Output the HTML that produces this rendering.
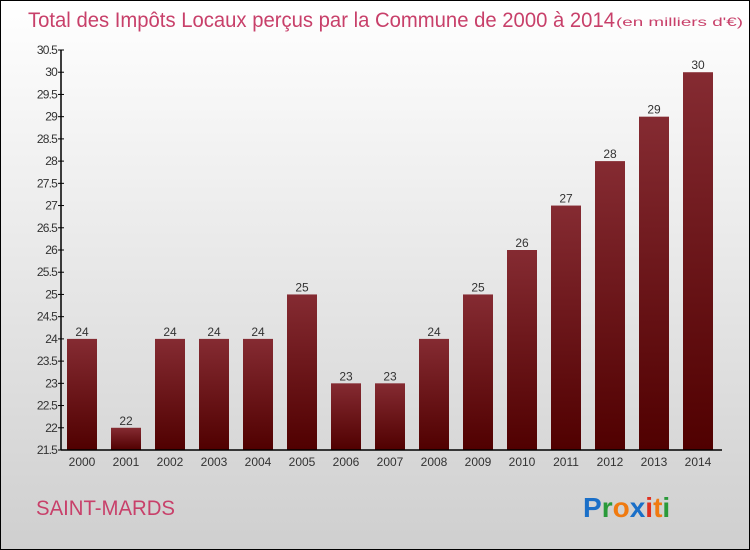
<!DOCTYPE html>
<html><head><meta charset="utf-8"><style>
body{margin:0}
#c{width:750px;height:550px;position:relative;box-sizing:border-box;border:1px solid #000;background:linear-gradient(#fff,#cfcfcf);font-family:"Liberation Sans",sans-serif;overflow:hidden}
</style></head><body>
<div id="c">
<svg width="750" height="550" id="s" style="position:absolute;left:-1px;top:-1px">
<text x="28" y="27" font-size="21" fill="#c8406a" textLength="587" lengthAdjust="spacingAndGlyphs">Total des Impôts Locaux perçus par la Commune de 2000 à 2014</text>
<text x="616" y="26" font-size="12" fill="#c8406a" textLength="127" lengthAdjust="spacingAndGlyphs">(en milliers d'€)</text>
<text x="36" y="515" font-size="21" fill="#c8406a" textLength="139" lengthAdjust="spacingAndGlyphs">SAINT-MARDS</text>
<g font-size="28" font-weight="bold" font-family="Liberation Sans, sans-serif">
<text x="583" y="517"><tspan fill="#1a6fc8">P</tspan><tspan fill="#2a9a3a">r</tspan><tspan fill="#f07a10">o</tspan><tspan fill="#1a6fc8">x</tspan><tspan fill="#e03020">i</tspan><tspan fill="#f07a10">t</tspan><tspan fill="#2a9a3a">i</tspan></text>
</g>
<defs><linearGradient id="g" x1="0" y1="0" x2="0" y2="1"><stop offset="0" stop-color="#852b32"/><stop offset="1" stop-color="#500000"/></linearGradient></defs>
<g id="bars"></g><g id="axes"></g>
</svg>
</div>
<script>
const years=["2000","2001","2002","2003","2004","2005","2006","2007","2008","2009","2010","2011","2012","2013","2014"];
const values=[24,22,24,24,24,25,23,23,24,25,26,27,28,29,30];
const yTicks=[21.5,22,22.5,23,23.5,24,24.5,25,25.5,26,26.5,27,27.5,28,28.5,29,29.5,30,30.5];
const NS="http://www.w3.org/2000/svg";
const y0=450,y1=50,vmin=21.5,vmax=30.5,x0=61;
const Y=v=>y0-(v-vmin)/(vmax-vmin)*(y0-y1);
const X=i=>82+i*44;
const bars=document.getElementById('bars'),axes=document.getElementById('axes');
function mk(t,a,p){const e=document.createElementNS(NS,t);for(const k in a)e.setAttribute(k,a[k]);p.appendChild(e);return e;}
values.forEach((v,i)=>{
 const r=mk('rect',{x:X(i)-15,y:Y(v),width:30,height:y0-Y(v),fill:'url(#g)'},bars);
 
 
 const t=mk('text',{x:X(i),y:Y(v)-3,'text-anchor':'middle','font-size':12,fill:'#333'},bars);
 t.textContent=v;
 
 
 const l=mk('text',{x:X(i),y:466,'text-anchor':'middle','font-size':12,fill:'#333'},axes);
 l.textContent=years[i];
 
 
});
const ya=mk('line',{x1:x0,y1:y1,x2:x0,y2:y0,stroke:'#000','stroke-width':1.5},axes);


const xa=mk('line',{x1:x0,y1:y0,x2:722,y2:y0,stroke:'#000','stroke-width':1.5},axes);


yTicks.forEach(v=>{
 mk('line',{x1:x0-3,y1:Y(v),x2:x0+3,y2:Y(v),stroke:'#000'},axes);
 const t=mk('text',{x:x0-4,y:Y(v)+4,'text-anchor':'end','font-size':12,fill:'#333','letter-spacing':'-0.8'},axes);
 t.textContent=v;
 
 
});
</script>
</body></html>
